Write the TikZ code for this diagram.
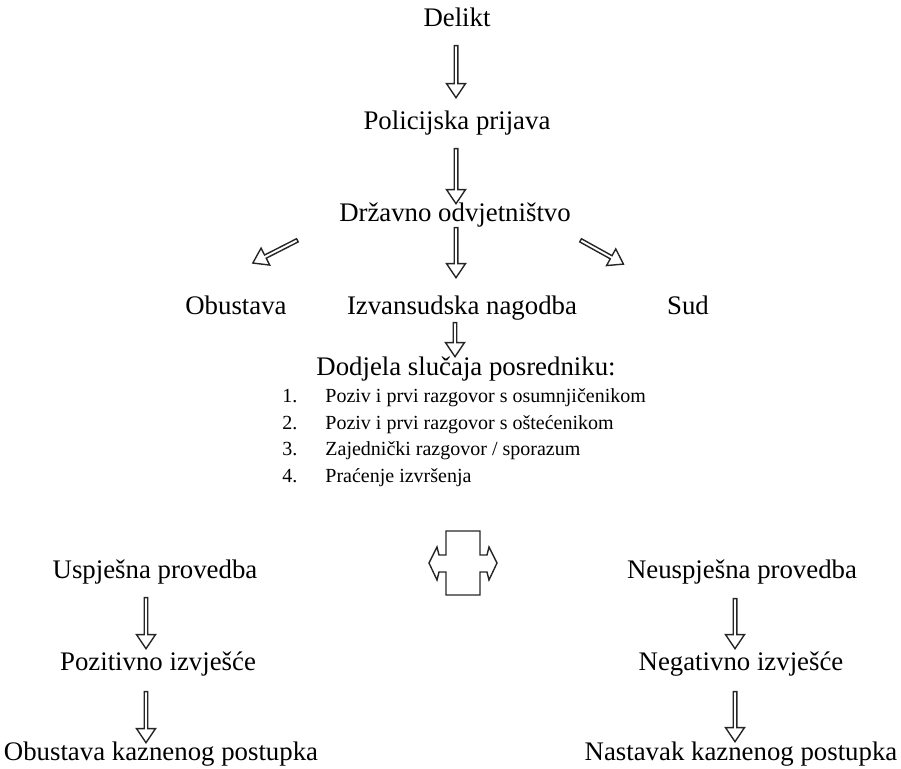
\documentclass[tikz,border=0pt]{standalone}
\usepackage{fontspec}
\setmainfont{Liberation Serif}
\usetikzlibrary{positioning, calc, shapes.arrows}

\begin{document}
\begin{tikzpicture}[
    x=0.5pt, y=-0.5pt,
    tekst/.style={font=\fontsize{13.4}{15}\selectfont, inner sep=1pt,
        text height=0.72em, text depth=0.22em},
    stavka/.style={font=\fontsize{10}{12}\selectfont, inner sep=0pt, anchor=base west},
    strelica/.style={single arrow, draw=black!85, line width=0.7pt, inner sep=0pt,
        minimum width=9.5pt, single arrow head extend=1.5pt,
        single arrow head indent=0pt, single arrow tip angle=68, anchor=tail},
    dolje/.style={strelica, rotate=-90}
]
    \useasboundingbox (0,0) rectangle (901,769);

    % Tok predmeta
    \node[tekst] (delikt) at (457,22) {Delikt};
    \node[tekst] (prijava) at (457,125) {Policijska prijava};
    \node[tekst] (dorh) at (455,217) {Državno odvjetništvo};

    \node[tekst] (obustava) at (236,310) {Obustava};
    \node[tekst] (nagodba) at (462,310) {Izvansudska nagodba};
    \node[tekst] (sud) at (688,310) {Sud};

    \node[tekst] (dodjela) at (466,371) {Dodjela slučaja posredniku:};

    % Koraci postupka
    \foreach \n/\t in {1/{Poziv i prvi razgovor s osumnjičenikom},
                       2/{Poziv i prvi razgovor s oštećenikom},
                       3/{Zajednički razgovor / sporazum},
                       4/{Praćenje izvršenja}} {
        \node[stavka] (broj-\n) at (282, {403+(\n-1)*26.5}) {\n.};
        \node[stavka] (korak-\n) at (325, {403+(\n-1)*26.5}) {\t};
    }

    % Ishodi
    \node[tekst] (uspjeh) at (155,574) {Uspješna provedba};
    \node[tekst] (pozitivno) at (158,666) {Pozitivno izvješće};
    \node[tekst] (kraj-1) at (161,756) {Obustava kaznenog postupka};

    \node[tekst] (neuspjeh) at (742,574) {Neuspješna provedba};
    \node[tekst] (negativno) at (741,666) {Negativno izvješće};
    \node[tekst] (kraj-2) at (741,756) {Nastavak kaznenog postupka};

    % Strelice
    \node[dolje, minimum height=26pt] (s1) at (456,45) {};
    \node[dolje, minimum height=27.5pt] (s2) at (456,148) {};
    \node[dolje, minimum height=25pt] (s3) at (456,227) {};
    \node[strelica, rotate=207, minimum height=25pt] (s4) at (298,240) {};
    \node[strelica, rotate=-29, minimum height=24.5pt] (s5) at (580,240) {};
    \node[dolje, minimum height=17pt] (s6) at (455,322) {};

    \node[dolje, minimum height=25.5pt] (s7) at (146,597) {};
    \node[dolje, minimum height=25.5pt] (s8) at (146,691) {};
    \node[dolje, minimum height=25pt] (s9) at (735,598) {};
    \node[dolje, minimum height=25pt] (s10) at (735,691) {};

    % Dvostruka strelica
    \draw[draw=black!85, line width=0.7pt]
        (446,531) -- (480,531) -- (480,555) -- (487,555) -- (489,547) -- (497,563)
        -- (489,580) -- (487,572) -- (480,572) -- (480,595) -- (446,595) -- (446,572)
        -- (439,572) -- (437,580) -- (429,563) -- (437,547) -- (439,555) -- (446,555) -- cycle;

\end{tikzpicture}
\end{document}
